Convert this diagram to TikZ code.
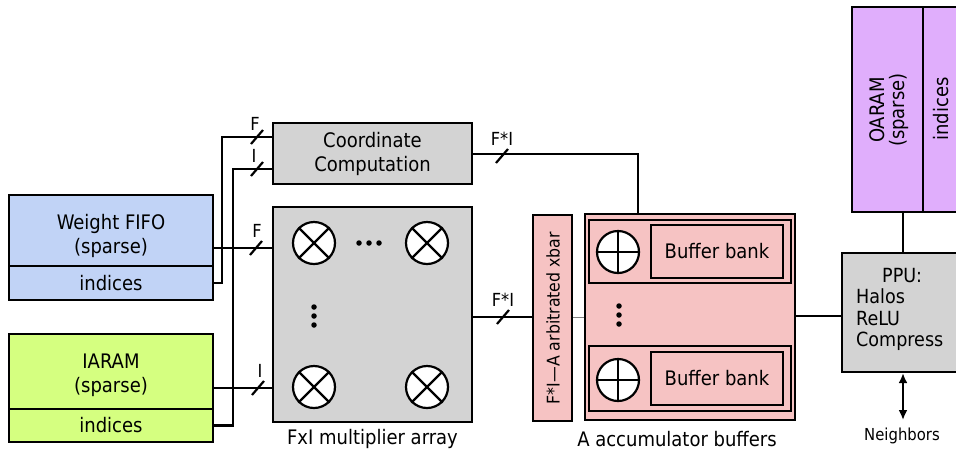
\documentclass[tikz,border=0pt]{standalone}
\usepackage{fontspec}
\setmainfont{DejaVu Sans Condensed}
\usetikzlibrary{arrows.meta,calc}
\definecolor{wfblue}{HTML}{C1D3F6}
\definecolor{iagreen}{HTML}{D5FF80}
\definecolor{accpink}{HTML}{F6C3C3}
\definecolor{oapurple}{HTML}{E0AEFC}
\definecolor{boxgray}{HTML}{D3D3D3}
\begin{document}
\begin{tikzpicture}[x=1pt,y=-1pt,
  blk/.style={draw, line width=2.2pt, inner sep=0pt, align=center, font=\fontsize{20}{25}\selectfont},
  txt/.style={inner sep=0pt, align=center, font=\fontsize{20}{24}\selectfont},
  lbl/.style={inner sep=0pt, font=\fontsize{18}{20}\selectfont},
  wire/.style={line width=2.2pt},
  slashmark/.style={line width=2.2pt},
  mult/.style={draw, circle, fill=white, line width=2.2pt, minimum size=42pt, inner sep=0pt},
  dotm/.style={fill=black, circle, inner sep=0pt, minimum size=5.5pt}]
\clip (0,0) rectangle (956,451);
% left memories
\node[blk, fill=wfblue, minimum width=204pt, minimum height=71pt] (wfTop) at (111,230.5) {};
\node[txt] (wfTxt) at (111,236) {Weight FIFO\\(sparse)};
\node[blk, fill=wfblue, minimum width=204pt, minimum height=34pt] (wfIdx) at (111,283) {indices};
\node[blk, fill=iagreen, minimum width=204pt, minimum height=75pt] (iaTop) at (111,371.5) {};
\node[txt] (iaTxt) at (111,375) {IARAM\\(sparse)};
\node[blk, fill=iagreen, minimum width=204pt, minimum height=33pt] (iaIdx) at (111,425.5) {indices};
% coordinate computation and multiplier array
\node[blk, fill=boxgray, minimum width=199pt, minimum height=61pt, font=\fontsize{20}{24}\selectfont] (coord) at (372.5,153.5) {Coordinate\\Computation};
\node[blk, fill=boxgray, minimum width=199pt, minimum height=215pt] (arr) at (372.5,314.5) {};
\node[mult] (m11) at (314,243) {};
\node[mult] (m12) at (427,243) {};
\node[mult] (m21) at (314,387) {};
\node[mult] (m22) at (427,387) {};
\foreach \m in {m11,m12,m21,m22}{
  \draw[line width=2.2pt] (\m.north west) -- (\m.south east) (\m.north east) -- (\m.south west);
}
\foreach \x in {359,369,379} \node[dotm] at (\x,243) {};
\foreach \y in {307,316,325} \node[dotm] at (314,\y) {};
\node[txt] (arrLbl) at (372.5,439) {FxI multiplier array};
% xbar
\node[blk, fill=accpink, minimum width=39pt, minimum height=206pt] (xbar) at (552.5,318) {};
\node[txt, rotate=90, font=\fontsize{17.5}{20}\selectfont] (xbarTxt) at (553,318) {F*I---A arbitrated xbar};
% accumulator buffers
\node[blk, fill=accpink, minimum width=210pt, minimum height=206pt] (acc) at (690,317) {};
\node[blk, fill=accpink, minimum width=202pt, minimum height=63pt] (row1) at (690,251.5) {};
\node[blk, fill=accpink, minimum width=132pt, minimum height=53pt] (bb1) at (717,251.5) {Buffer bank};
\node[blk, fill=accpink, minimum width=202pt, minimum height=65pt] (row2) at (690,378.5) {};
\node[blk, fill=accpink, minimum width=132pt, minimum height=53pt] (bb2) at (717,378.5) {Buffer bank};
\node[mult] (a1) at (618,252) {};
\node[mult] (a2) at (618,380) {};
\foreach \m in {a1,a2}{
  \draw[line width=2.2pt] (\m.north) -- (\m.south) (\m.east) -- (\m.west);
}
\foreach \y in {306,315,324} \node[dotm] at (619,\y) {};
\node[txt] (accLbl) at (677,439) {A accumulator buffers};
% OARAM and PPU
\node[blk, fill=oapurple, minimum width=71pt, minimum height=205pt] (oaL) at (887.5,109.5) {};
\node[blk, fill=oapurple, minimum width=77pt, minimum height=205pt] (oaR) at (961.5,109.5) {};
\node[txt, rotate=90, font=\fontsize{20}{20}\selectfont] (oaTxt) at (889,110) {OARAM\\(sparse)};
\node[txt, rotate=90] (oaIdx) at (941,109) {indices};
\node[blk, fill=boxgray, minimum width=150pt, minimum height=119pt] (ppu) at (917,312.5) {};
\node[txt, anchor=north west, align=left, font=\fontsize{19.5}{21.5}\selectfont] (ppuTxt) at (856,268) {\hspace*{26pt}PPU:\\Halos\\ReLU\\Compress};
\node[lbl, font=\fontsize{16.5}{18}\selectfont] (nbr) at (902,436) {Neighbors};
% connectors
\draw[wire] (wfTop.east |- 0,248) -- (arr.west |- 0,248);
\draw[wire] (iaTop.east |- 0,388) -- (arr.west |- 0,388);
\draw[wire] (wfIdx.east) -- (222,283) |- (coord.west |- 0,137);
\draw[wire] (iaIdx.east) -- (233,425.5) |- (coord.west |- 0,169);
\draw[wire] (coord.east |- 0,154) -| (acc.north -| 638,0);
\draw[wire] (arr.east |- 0,317) -- (xbar.west |- 0,317);
\draw[line width=0.6pt, gray] (xbar.east |- 0,317) -- (acc.west |- 0,317);
\draw[wire] (acc.east |- 0,316) -- (ppu.west |- 0,316);
\draw[wire] (oaL.south -| 903,0) -- (ppu.north -| 903,0);
\coordinate (nbrTop) at (903,420);
\draw[wire, {Latex[length=10pt,width=9pt]}-{Latex[length=10pt,width=9pt]}] (ppu.south -| nbrTop) -- (nbrTop);
% bus width marks
\foreach \p in {(257,137),(257,169),(256,248),(258,388),(502,156),(503,317)}{
  \draw[slashmark] \p ++(-6,7) -- ++(12,-14);
}
\node[lbl] (lF1) at (255,124) {F};
\node[lbl] (lI1) at (254,156) {I};
\node[lbl] (lF2) at (257,231) {F};
\node[lbl] (lI2) at (260,371) {I};
\node[lbl] (lFI1) at (502,139) {F*I};
\node[lbl] (lFI2) at (503,300) {F*I};
\end{tikzpicture}
\end{document}
